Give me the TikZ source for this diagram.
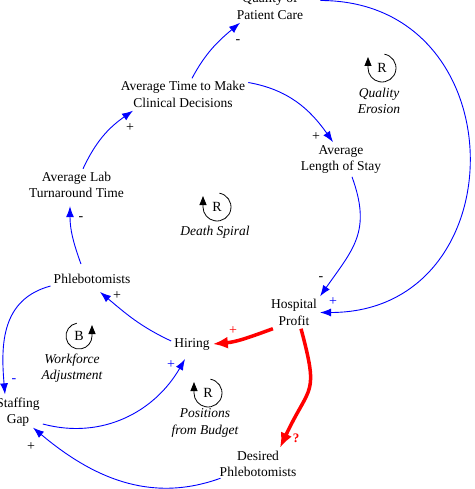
\documentclass[tikz,border=0pt]{standalone}
\usepackage{fontspec}
\setmainfont{Liberation Serif}
\usetikzlibrary{arrows.meta}
\begin{document}
\begin{tikzpicture}[x=1pt,y=1pt,
	var/.style={align=center,inner sep=3pt,font=\fontsize{13.5}{16.5}\selectfont},
	link/.style={blue,line width=0.9pt,-{Latex[length=11pt,width=8pt]}},
	budget/.style={red,line width=3.5pt,-{Latex[length=15pt,width=12pt]}},
	sign/.style={inner sep=0pt,font=\fontsize{14}{14}\selectfont},
	loopname/.style={align=center,inner sep=0pt,font=\fontsize{13.5}{16.5}\selectfont\itshape},
	loopletter/.style={inner sep=0pt,font=\fontsize{14}{14}\selectfont},
	looparrow/.style={black,line width=0.8pt,-{Triangle[length=9pt,width=7pt]}}]
\useasboundingbox (0,0) rectangle (474,-489);
% variables
\node[var] (qpc) at (270,-6.5) {Quality of\\Patient Care};
\node[var] (atcd) at (183,-94.5) {Average Time to Make\\Clinical Decisions};
\node[var] (alos) at (341,-159.5) {Average\\Length of Stay};
\node[var] (altt) at (76.5,-185) {Average Lab\\Turnaround Time};
\node[var] (phleb) at (92,-279) {Phlebotomists};
\node[var] (profit) at (294,-312.5) {Hospital\\Profit};
\node[var] (hiring) at (192,-344) {Hiring};
\node[var] (gap) at (18,-412) {Staffing\\Gap};
\node[var] (desired) at (258,-464) {Desired\\Phlebotomists};
% links
\draw[link] ([xshift=9pt]atcd.north) to[out=62,in=220] ([xshift=-30pt]qpc.south);
\draw[link] ([yshift=12pt]atcd.east) to[out=-10,in=125] ([xshift=-8pt]alos.north);
\draw[link] ([xshift=6.5pt]altt.north) to[out=65,in=215] ([xshift=-50pt]atcd.south);
\draw[link] ([shift={(-11pt,7pt)}]phleb.north) to[out=110,in=270] ([shift={(-6.5pt,-5pt)}]altt.south);
\draw[link] ([yshift=-7pt]phleb.west) to[out=195,in=95,looseness=1.1] ([xshift=-13pt]gap.north);
\draw[link] ([yshift=3pt]hiring.west) to[out=155,in=-40] ([shift={(8pt,-5pt)}]phleb.south);
\draw[link] ([yshift=-12pt]gap.east) to[out=-15,in=240] ([shift={(-7pt,-6pt)}]hiring.south);
\draw[link] ([shift={(4pt,2pt)}]desired.south west) to[out=200,in=-40] ([shift={(15pt,2pt)}]gap.south);
\draw[link] ([xshift=11pt]alos.south) to[out=-70,in=55,looseness=1.2] (profit.north east);
\draw[link] ([shift={(14pt,6pt)}]qpc.east) to[out=0,in=0,looseness=1.63] (profit.east);
\draw[budget] ([xshift=5pt]profit.south west) to[out=200,in=5] (hiring.east);
\draw[budget] ([xshift=7pt]profit.south) to[out=-75,in=65,looseness=1.5] ([xshift=22pt]desired.north);
% polarities
\node[sign] (s1) at (238,-42) {-};
\node[sign] (s2) at (316,-137) {+};
\node[sign] (s3) at (130,-128) {+};
\node[sign] (s4) at (81,-219) {-};
\node[sign,blue] (s5) at (14,-381) {-};
\node[sign] (s6) at (117,-296) {+};
\node[sign,blue] (s7) at (171,-365) {+};
\node[sign] (s8) at (31,-447) {+};
\node[sign] (s9) at (321,-279) {-};
\node[sign,blue] (s10) at (333,-302) {+};
\node[sign,red] (s11) at (233,-331) {+};
\node[sign,red,font=\fontsize{13}{13}\selectfont\bfseries] (s12) at (296,-438) {?};
% loops
\node[loopletter] (qe) at (382,-68) {R};
\draw[looparrow] (qe.center) ++(80:14) arc (80:-180:14) -- ++(0,11);
\node[loopname] (qen) at (379,-101) {Quality\\Erosion};
\node[loopletter] (ds) at (217,-207) {R};
\draw[looparrow] (ds.center) ++(80:14) arc (80:-180:14) -- ++(0,11);
\node[loopname] (dsn) at (215,-232) {Death Spiral};
\node[loopletter] (wa) at (79,-336) {B};
\draw[looparrow] (wa.center) ++(100:13) arc (100:360:13) -- ++(0,11);
\node[loopname] (wan) at (72,-368) {Workforce\\Adjustment};
\node[loopletter] (pb) at (208,-393) {R};
\draw[looparrow] (pb.center) ++(80:14) arc (80:-180:14) -- ++(0,11);
\node[loopname] (pbn) at (205,-423) {Positions\\from Budget};
\end{tikzpicture}
\end{document}
